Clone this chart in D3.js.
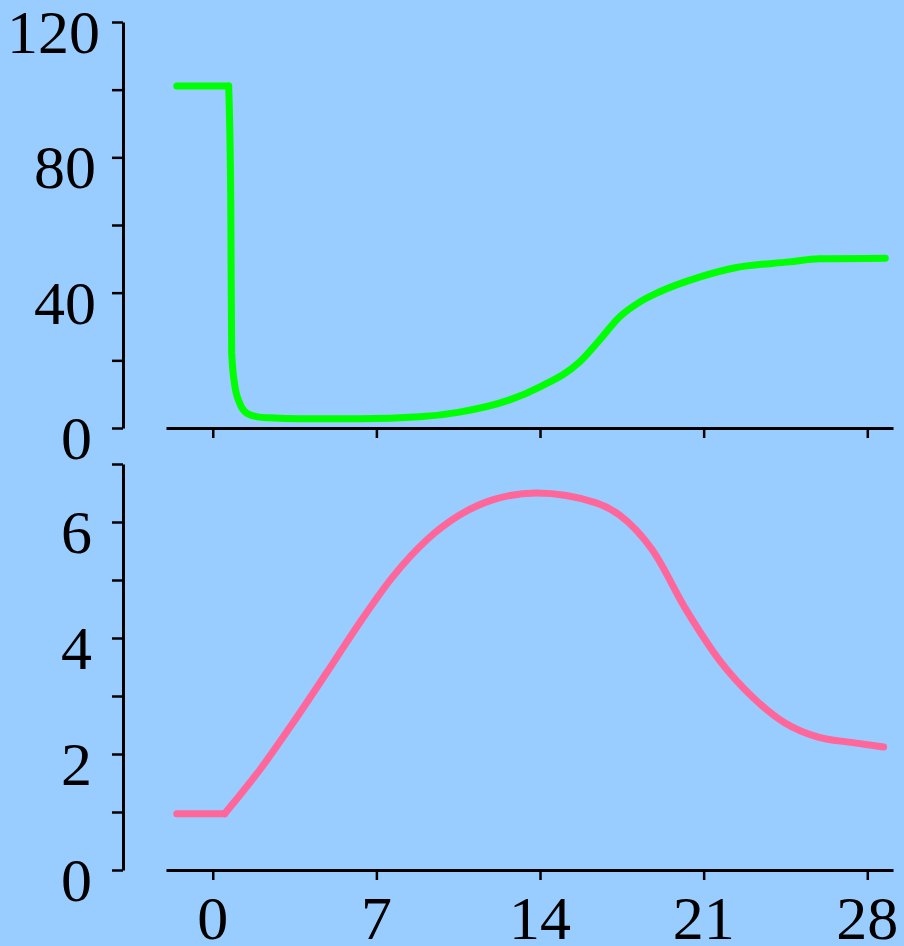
<!DOCTYPE html>
<html>
<head>
<meta charset="utf-8">
<script src="https://cdn.jsdelivr.net/npm/d3@7"></script>
<style>
  html, body { margin: 0; padding: 0; background: #99CCFF; }
  svg { display: block; }
  text { font-family: "Liberation Serif", "Times New Roman", serif; }
</style>
</head>
<body>
<svg id="chart" width="904" height="946"></svg>
<script>
// ---- data ----
const greenX = [-1.54, 0.68, 0.77, 0.81, 0.94, 1.15, 1.45, 1.92, 2.44, 3.72, 6.28, 8.85, 10.56, 12.7, 13.98, 15.69, 16.55, 17.4, 18.26, 19.1, 20.82, 22.3, 24.67, 25.95, 28.77];
const greenY = [101.1, 101.1, 67, 22.2, 12.7, 7.4, 4.4, 3.3, 3.0, 2.7, 2.7, 3.3, 4.7, 8.3, 12.1, 19.5, 26.0, 32.8, 37.2, 40.2, 44.6, 47.3, 49.1, 50.0, 50.2];

const pinkX = [-1.54, 0.51, 1.2, 2.0, 3.42, 4.87, 6.28, 7.69, 9.15, 10.56, 11.97, 13.85, 16.4, 17.4, 18.8, 20.26, 21.67, 23.1, 24.5, 25.9, 27.3, 28.7];
const pinkY = [0.97, 0.97, 1.31, 1.72, 2.53, 3.40, 4.26, 5.05, 5.69, 6.12, 6.38, 6.50, 6.33, 6.12, 5.52, 4.48, 3.62, 2.98, 2.53, 2.29, 2.2, 2.12];

const xTicks = [0, 7, 14, 21, 28];
const topYTicks = [0, 20, 40, 60, 80, 100, 120];
const topYLabels = [0, 40, 80, 120];
const botYTicks = [0, 1, 2, 3, 4, 5, 6, 7];
const botYLabels = [0, 2, 4, 6];

// ---- layout ----
const svg = d3.select("#chart");
svg.append("rect").attr("width", 904).attr("height", 946).attr("fill", "#99CCFF");

const x = d3.scaleLinear().domain([-2.0, 29.1]).range([166, 893]);
const yTop = d3.scaleLinear().domain([0, 120]).range([428, 22]);
const yBot = d3.scaleLinear().domain([0, 7]).range([870, 464]);
const yAxisX = 123;
const fontSize = 62;

function styleAxis(g) {
  g.select(".domain").attr("stroke", "#000").attr("stroke-width", 3);
  g.selectAll(".tick line").attr("stroke", "#000").attr("stroke-width", 2.5);
  g.selectAll(".tick text").remove();
}

function drawPanel(yScale, yTicks, yLabels, showXLabels) {
  const ya = svg.append("g").attr("transform", `translate(${yAxisX},0)`)
    .call(d3.axisLeft(yScale).tickValues(yTicks).tickSize(11).tickSizeOuter(0));
  styleAxis(ya);
  svg.append("g").selectAll("text").data(yLabels).join("text")
    .attr("x", d => 92 + (String(d).length - 1) * 4)
    .attr("y", d => yScale(d) + 31)
    .attr("text-anchor", "end")
    .attr("font-size", fontSize)
    .attr("fill", "#000")
    .text(d => d);
  const y0 = yScale(0);
  const xa = svg.append("g").attr("transform", `translate(0,${y0})`)
    .call(d3.axisBottom(x).tickValues(xTicks).tickSize(10).tickSizeOuter(0));
  styleAxis(xa);
  if (showXLabels) {
    svg.append("g").selectAll("text").data(xTicks).join("text")
      .attr("x", d => x(d))
      .attr("y", y0 + 69)
      .attr("text-anchor", "middle")
      .attr("font-size", fontSize)
      .attr("fill", "#000")
      .text(d => d);
  }
}

drawPanel(yTop, topYTicks, topYLabels, false);
drawPanel(yBot, botYTicks, botYLabels, true);

// ---- lines ----
const greenData = greenX.map((v, i) => [v, greenY[i]]);
const pinkData = pinkX.map((v, i) => [v, pinkY[i]]);

function drawSeries(data, yScale, color) {
  const g = svg.append("g")
    .attr("fill", "none")
    .attr("stroke", color)
    .attr("stroke-width", 7)
    .attr("stroke-linejoin", "round")
    .attr("stroke-linecap", "round");
  g.append("path").datum(data.slice(0, 2))
    .attr("d", d3.line().x(d => x(d[0])).y(d => yScale(d[1])));
  g.append("path").datum(data.slice(1))
    .attr("d", d3.line().x(d => x(d[0])).y(d => yScale(d[1])).curve(d3.curveMonotoneX));
}

drawSeries(greenData, yTop, "#00FF00");
drawSeries(pinkData, yBot, "#FF6699");
</script>
</body>
</html>
